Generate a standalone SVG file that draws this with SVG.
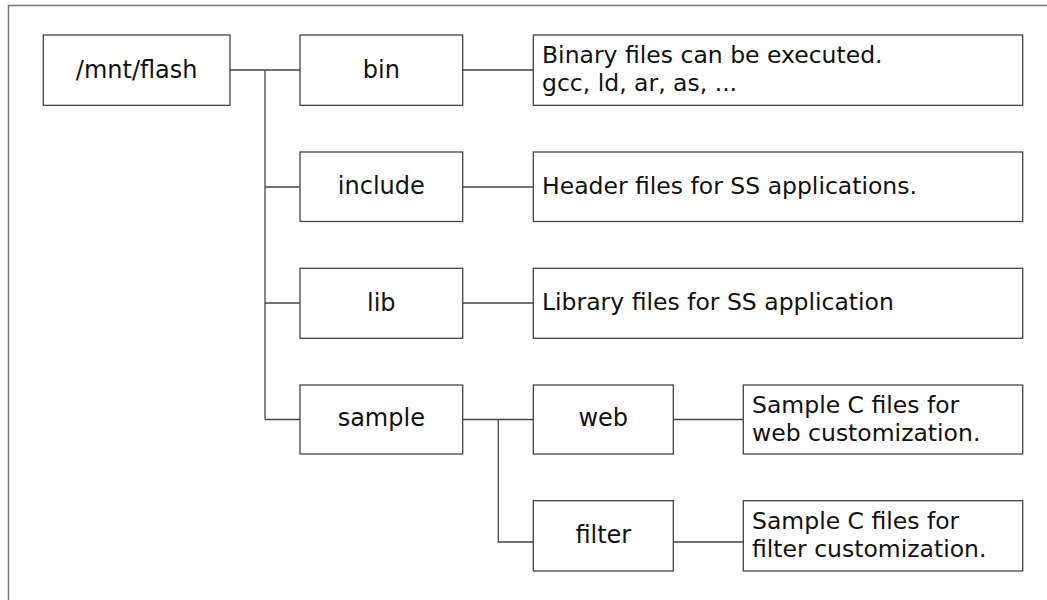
<svg xmlns="http://www.w3.org/2000/svg" width="1047" height="600" viewBox="0 0 1047 600">
<style>
.frame{fill:#fff;stroke:#777;stroke-width:1.5}
.box{fill:#fff;stroke:#444;stroke-width:1.3}
.conn{fill:none;stroke:#444;stroke-width:1.3}
.lbl{font-family:"DejaVu Sans",Verdana,sans-serif;font-size:24px;fill:#111;text-anchor:middle}
.desc{font-family:"DejaVu Sans",Verdana,sans-serif;font-size:23.5px;fill:#111}
</style>
<rect class="frame" x="8.5" y="5.5" width="1100" height="700"/>
<g id="connectors">
<path class="conn" d="M230 70H300M265 70V419.5M265 187H300M265 303H300M265 419.5H300"/>
<path class="conn" d="M462.7 70H533.3M462.7 187H533.3M462.7 303H533.3"/>
<path class="conn" d="M462.7 419.5H533.3M498.3 419.5V542H533.3"/>
<path class="conn" d="M673.3 419.5H743.3M673.3 542H743.3"/>
</g>
<g id="n-mnt"><rect class="box" x="43.3" y="35" width="186.7" height="70.3"/><text class="lbl" x="136.7" y="77.5">/mnt/flash</text></g>
<g id="n-bin"><rect class="box" x="300" y="35" width="162.7" height="70.3"/><text class="lbl" x="381.3" y="77.5">bin</text></g>
<g id="n-bin-desc"><rect class="box" x="533.3" y="35" width="489.4" height="70.3"/><text class="desc" x="542" y="63">Binary files can be executed.</text><text class="desc" x="542" y="91">gcc, ld, ar, as, ...</text></g>
<g id="n-include"><rect class="box" x="300" y="152" width="162.7" height="69.5"/><text class="lbl" x="381.3" y="194">include</text></g>
<g id="n-include-desc"><rect class="box" x="533.3" y="152" width="489.4" height="69.5"/><text class="desc" x="542" y="193.5">Header files for SS applications.</text></g>
<g id="n-lib"><rect class="box" x="300" y="268.3" width="162.7" height="70"/><text class="lbl" x="381.3" y="310.5">lib</text></g>
<g id="n-lib-desc"><rect class="box" x="533.3" y="268.3" width="489.4" height="70"/><text class="desc" x="542" y="310">Library files for SS application</text></g>
<g id="n-sample"><rect class="box" x="300" y="385" width="162.7" height="69"/><text class="lbl" x="381.3" y="426">sample</text></g>
<g id="n-web"><rect class="box" x="533.3" y="385" width="140" height="69"/><text class="lbl" x="603.3" y="426">web</text></g>
<g id="n-web-desc"><rect class="box" x="743.3" y="385" width="279.4" height="69"/><text class="desc" x="752" y="413">Sample C files for</text><text class="desc" x="752" y="441">web customization.</text></g>
<g id="n-filter"><rect class="box" x="533.3" y="500.7" width="140" height="70.3"/><text class="lbl" x="603.3" y="543">filter</text></g>
<g id="n-filter-desc"><rect class="box" x="743.3" y="500.7" width="279.4" height="70.3"/><text class="desc" x="752" y="529">Sample C files for</text><text class="desc" x="752" y="557">filter customization.</text></g>
</svg>
